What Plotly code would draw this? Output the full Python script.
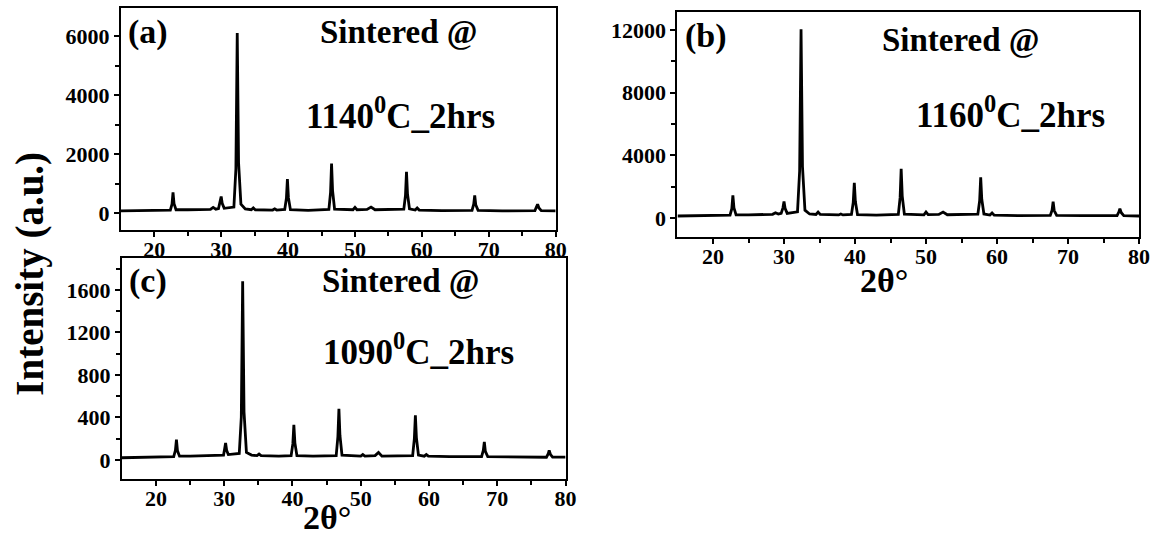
import plotly.graph_objects as go

# XRD patterns: 2-theta (deg) and intensity (a.u.)
theta_a = [15, 18, 21, 22.4, 22.65, 22.8, 22.95, 23.25, 25, 28.4, 28.8, 29.2, 29.6, 29.85, 30.0, 30.15,
           30.45, 31.9, 32.2, 32.4, 32.6, 32.95, 33.6, 34.5, 34.8, 35.1, 37.7, 38.0, 38.3, 39.5, 39.75,
           39.9, 40.05, 40.35, 43, 46.1, 46.35, 46.5, 46.65, 46.95, 49.7, 50.0, 50.3, 51.8, 52.4, 53.0,
           57.3, 57.55, 57.7, 57.85, 58.15, 59.0, 59.3, 59.6, 63, 67.5, 67.75, 67.9, 68.05, 68.4, 72,
           76.9, 77.15, 77.3, 77.5, 77.85, 80]
int_a = [70, 75, 80, 95, 300, 700, 320, 110, 110, 120, 190, 130, 150, 350, 560, 330, 160, 200, 1500, 6100,
         1700, 300, 140, 110, 170, 110, 100, 140, 100, 120, 500, 1150, 520, 110, 90, 120, 700, 1680,
         760, 130, 110, 190, 110, 120, 200, 110, 130, 600, 1400, 650, 140, 100, 170, 100, 80, 90, 300,
         600, 280, 90, 70, 80, 190, 300, 170, 80, 70]

theta_b = [15, 18, 21, 22.4, 22.65, 22.8, 22.95, 23.25, 25, 28.4, 28.8, 29.2, 29.6, 29.85, 30.0, 30.15,
           30.45, 31.9, 32.2, 32.4, 32.6, 32.95, 33.6, 34.5, 34.8, 35.1, 37.7, 38.0, 38.3, 39.5, 39.75,
           39.9, 40.05, 40.35, 43, 46.1, 46.35, 46.5, 46.65, 46.95, 49.7, 50.0, 50.3, 51.8, 52.4, 53.0,
           57.3, 57.55, 57.7, 57.85, 58.15, 59.0, 59.3, 59.6, 63, 67.5, 67.75, 67.9, 68.05, 68.4, 72,
           76.9, 77.15, 77.3, 77.5, 77.85, 80]
int_b = [130, 140, 150, 180, 600, 1450, 650, 200, 200, 240, 340, 260, 300, 650, 1050, 620, 300, 400, 3000,
         12050, 3300, 500, 260, 230, 380, 230, 200, 260, 200, 230, 1000, 2250, 1050, 220, 180, 230, 1300,
         3150, 1400, 250, 200, 380, 220, 230, 380, 210, 250, 1100, 2600, 1200, 260, 190, 320, 180, 150,
         170, 500, 1050, 480, 170, 160, 150, 380, 600, 340, 150, 130]

theta_c = [15, 18, 21, 22.6, 22.85, 23.0, 23.15, 23.45, 25, 28, 29.9, 30.05, 30.2, 30.35, 30.6, 32.2, 32.5,
           32.7, 32.9, 33.25, 34, 34.8, 35.1, 35.4, 38, 39.8, 40.05, 40.2, 40.35, 40.65, 43, 46.4, 46.65,
           46.8, 46.95, 47.25, 50.0, 50.3, 50.6, 52.1, 52.6, 53.1, 57.6, 57.85, 58.0, 58.15, 58.45, 59.3,
           59.6, 59.9, 63, 67.7, 67.95, 68.1, 68.25, 68.6, 73, 77.2, 77.45, 77.6, 77.8, 78.1, 80]
int_c = [20, 22, 25, 30, 90, 190, 85, 35, 35, 40, 45, 100, 160, 90, 50, 60, 400, 1680, 450, 70, 45, 40,
         55, 40, 35, 40, 150, 330, 160, 40, 35, 40, 220, 480, 230, 45, 35, 50, 35, 40, 70, 35, 40, 200,
         420, 210, 45, 35, 50, 35, 30, 30, 90, 170, 80, 30, 30, 25, 55, 90, 50, 25, 25]

x_ticks = [20, 30, 40, 50, 60, 70, 80]
x_minor = [25, 35, 45, 55, 65, 75]

panels = [
    dict(tag="(a)", x=theta_a, y=int_a, temp="1140<sup>0</sup>C_2hrs",
         yrange=[-576, 6950], ytick=[0, 2000, 4000, 6000], yminor=1000,
         tag_y=6130, sint_x=56.6, sint_y=6130, temp_x=56.8, temp_y=3390),
    dict(tag="(b)", x=theta_b, y=int_b, temp="1160<sup>0</sup>C_2hrs",
         yrange=[-1210, 13150], ytick=[0, 4000, 8000, 12000], yminor=2000,
         tag_y=11610, sint_x=54.9, sint_y=11350, temp_x=61.9, temp_y=6760),
    dict(tag="(c)", x=theta_c, y=int_c, temp="1090<sup>0</sup>C_2hrs",
         yrange=[-180, 1900], ytick=[0, 400, 800, 1200, 1600], yminor=200,
         tag_y=1685, sint_x=55.9, sint_y=1685, temp_x=58.5, temp_y=1035),
]

W, H = 1156, 535
px_boxes = [(122, 561, 8, 230), (684, 1150, 12, 237), (123, 571, 258, 479)]

FONT = "Liberation Serif"
fig = go.Figure()


def bold(vals):
    return ["<b>%d</b>" % v for v in vals]


for i, p in enumerate(panels):
    n = "" if i == 0 else str(i + 1)
    xa, ya = "x" + n, "y" + n
    x0, x1, top, bot = px_boxes[i]
    fig.add_trace(go.Scatter(x=p["x"], y=p["y"], mode="lines",
                             line=dict(color="black", width=2.8),
                             xaxis=xa, yaxis=ya, showlegend=False, hoverinfo="skip"))
    common = dict(showline=True, linecolor="black", linewidth=2, mirror=True,
                  ticks="outside", tickcolor="black", tickwidth=2, showgrid=False,
                  zeroline=False, ticklen=5,
                  tickfont=dict(family=FONT, size=22, color="black"))
    fig.layout["xaxis" + n] = dict(
        domain=[x0 / W, x1 / W], range=[15, 80], anchor=ya,
        tickvals=x_ticks, ticktext=bold(x_ticks), ticklabelstandoff=-6,
        minor=dict(tickvals=x_minor, ticklen=4, tickwidth=2,
                   tickcolor="black", ticks="outside"),
        **common)
    lo, hi = p["yrange"]
    step = p["yminor"]
    minor_vals = [v for v in range(lo - lo % step, hi, step)
                  if v not in p["ytick"] and lo <= v <= hi]
    fig.layout["yaxis" + n] = dict(
        domain=[1 - bot / H, 1 - top / H], range=p["yrange"], anchor=xa,
        tickvals=p["ytick"], ticktext=bold(p["ytick"]),
        minor=dict(tickvals=minor_vals, ticklen=4, tickwidth=2,
                   tickcolor="black", ticks="outside"),
        **common)
    fig.add_annotation(x=15.8, y=p["tag_y"], xref=xa, yref=ya, text="<b>%s</b>" % p["tag"],
                       showarrow=False, xanchor="left", yanchor="middle",
                       font=dict(family=FONT, size=34, color="black"))
    fig.add_annotation(x=p["sint_x"], y=p["sint_y"], xref=xa, yref=ya, text="<b>Sintered @</b>",
                       showarrow=False, xanchor="center", yanchor="middle",
                       font=dict(family=FONT, size=33, color="black"))
    fig.add_annotation(x=p["temp_x"], y=p["temp_y"], xref=xa, yref=ya, text="<b>%s</b>" % p["temp"],
                       showarrow=False, xanchor="center", yanchor="middle",
                       font=dict(family=FONT, size=35, color="black"))

# Shared axis titles
fig.add_annotation(x=30 / W, y=1 - 274 / H, xref="paper", yref="paper",
                   text="<b>Intensity (a.u.)</b>", textangle=-90, showarrow=False,
                   xanchor="center", yanchor="middle",
                   font=dict(family=FONT, size=39, color="black"))
for cx, cy in [(892, 280), (330, 517)]:
    fig.add_annotation(x=cx / W, y=1 - cy / H, xref="paper", yref="paper",
                       text="<b>2θ°</b>", showarrow=False, xanchor="center", yanchor="middle",
                       font=dict(family=FONT, size=34, color="black"))

fig.update_layout(width=W, height=H, margin=dict(l=0, r=0, t=0, b=0),
                  paper_bgcolor="white", plot_bgcolor="white")

fig.write_html("out.html")
